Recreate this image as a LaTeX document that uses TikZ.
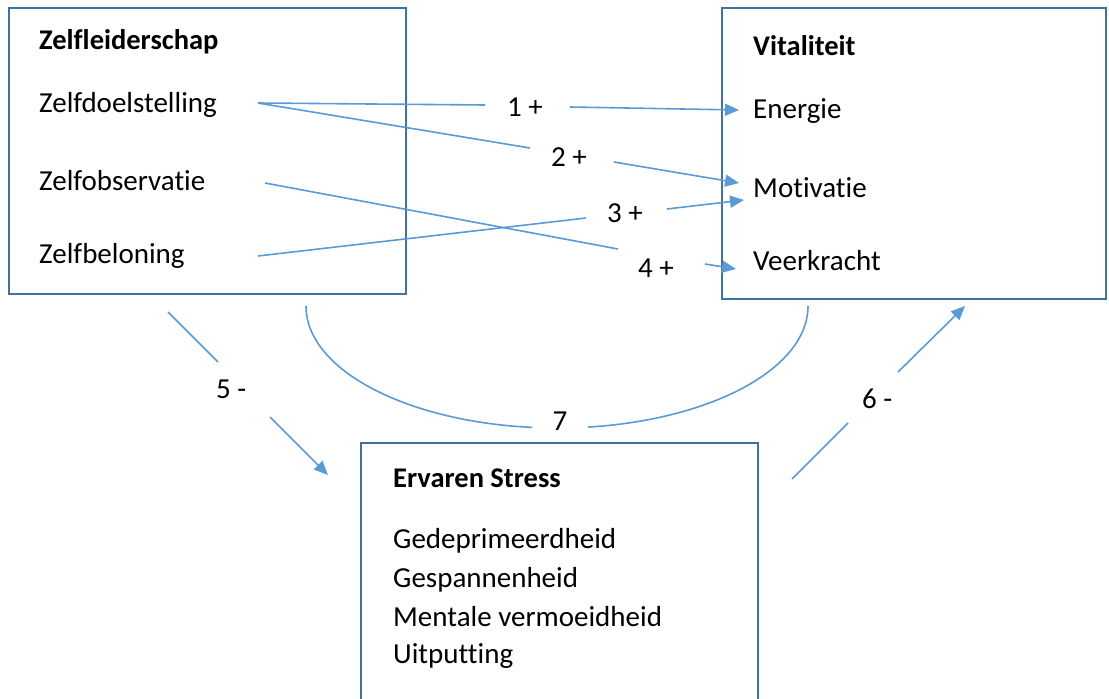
\documentclass[tikz,border=0pt]{standalone}
\usepackage{fontspec}
\setmainfont[RawFeature=-liga]{Carlito}
\usetikzlibrary{arrows.meta}
\definecolor{lnk}{HTML}{5B9BD5}
\definecolor{bord}{HTML}{41719C}
\begin{document}
\begin{tikzpicture}[x=1pt,y=-1pt,
  boxnode/.style={draw=bord,line width=1.6pt,inner sep=0pt,anchor=north west},
  txt/.style={anchor=base west,inner sep=0pt,font=\fontsize{29}{34}\selectfont},
  hd/.style={anchor=base west,inner sep=0pt,font=\fontsize{28.5}{34}\selectfont\bfseries},
  lbl/.style={anchor=base west,inner sep=0pt,font=\fontsize{29}{34}\selectfont},
  lnkline/.style={draw=lnk,line width=1.6pt},
  arr/.style={lnkline,-{Triangle[length=14pt,width=12pt]}}]
\clip (0,0) rectangle (1109,699);
\fill[white] (0,0) rectangle (1109,699);
% boxes
\node[boxnode,minimum width=397pt,minimum height=286pt] (zl) at (8,7) {};
\node[boxnode,minimum width=384pt,minimum height=291pt] (vt) at (721,7) {};
\node[boxnode,minimum width=397pt,minimum height=320pt] (st) at (360,442) {};
% texts
\node[hd] (zlh) at (39,49) {Zelfleiderschap};
\node[txt] (zd) at (39,112) {Zelfdoelstelling};
\node[txt] (zo) at (39,190) {Zelfobservatie};
\node[txt] (zb) at (39,263) {Zelfbeloning};
\node[hd] (vth) at (753,55) {Vitaliteit};
\node[txt] (en) at (753,118) {Energie};
\node[txt] (mo) at (753,197) {Motivatie};
\node[txt] (ve) at (753,270) {Veerkracht};
\node[hd] (sth) at (393,487) {Ervaren Stress};
\node[txt] (gd) at (393,548) {Gedeprimeerdheid};
\node[txt] (gs) at (393,587) {Gespannenheid};
\node[txt] (mv) at (393,626) {Mentale vermoeidheid};
\node[txt] (up) at (393,663) {Uitputting};
% labels
\node[lbl] (l1) at (507,116) {1 +};
\node[lbl] (l2) at (551,166) {2 +};
\node[lbl] (l3) at (607,222) {3 +};
\node[lbl] (l4) at (638,277) {4 +};
\node[lbl] (l5) at (216,398) {5 -};
\node[lbl] (l6) at (862,408) {6 -};
% connector points
\coordinate (s1) at (258,103);
\coordinate (s3) at (258,256);
\coordinate (s4) at (265,183);
\coordinate (a1) at (485,105);
\coordinate (b1) at (570,107);
\coordinate (t1) at (739,110);
\coordinate (a2) at (530,148);
\coordinate (b2) at (614,162);
\coordinate (t2) at (739,183);
\coordinate (a3) at (586,218);
\coordinate (b3) at (667,209);
\coordinate (t3) at (744,200);
\coordinate (a4) at (618,249);
\coordinate (b4) at (705,264);
\coordinate (t4) at (736,269);
\coordinate (s5) at (168,312);
\coordinate (a5) at (218,362);
\coordinate (b5) at (270,417);
\coordinate (t5) at (328,475);
\coordinate (s6) at (792,479);
\coordinate (a6) at (848,423);
\coordinate (b6) at (898,372);
\coordinate (t6) at (965,306);
\coordinate (c7l) at (306,306);
\coordinate (c7m) at (557,428);
\coordinate (c7r) at (808,306);
% connectors
\draw[lnkline] (s1) -- (a1); \draw[arr] (b1) -- (t1);
\draw[lnkline] (s1) -- (a2); \draw[arr] (b2) -- (t2);
\draw[lnkline] (s3) -- (a3); \draw[arr] (b3) -- (t3);
\draw[lnkline] (s4) -- (a4); \draw[arr] (b4) -- (t4);
\draw[lnkline] (s5) -- (a5); \draw[arr] (b5) -- (t5);
\draw[lnkline] (s6) -- (a6); \draw[arr] (b6) -- (t6);
\draw[lnkline] (c7l) .. controls (306,373.4) and (418.4,428) .. (c7m)
  .. controls (695.6,428) and (808,373.4) .. (c7r);
\node[lbl,fill=white,anchor=base,minimum width=56pt,inner ysep=0pt] (l7) at (560,430) {7};
\end{tikzpicture}
\end{document}
